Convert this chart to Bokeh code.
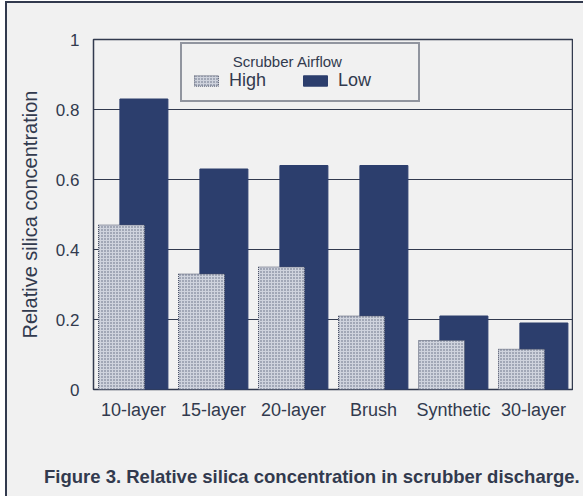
from bokeh.plotting import figure
from bokeh.models import (FactorRange, Range1d, Legend, LegendItem, Div,
                          FixedTicker)
from bokeh.layouts import column
from bokeh.transform import dodge
from bokeh.embed import file_html
from bokeh.resources import INLINE

# ---- data ----
categories = ["10-layer", "15-layer", "20-layer", "Brush", "Synthetic", "30-layer"]
high_airflow = [0.47, 0.33, 0.35, 0.21, 0.14, 0.115]
low_airflow = [0.83, 0.63, 0.64, 0.64, 0.21, 0.19]
y_ticks = [0, 0.2, 0.4, 0.6, 0.8, 1]
y_tick_labels = ["0", "0.2", "0.4", "0.6", "0.8", "1"]
legend_title = "Scrubber Airflow"
series_names = ["High", "Low"]
y_label = "Relative silica concentration"
caption = "Figure 3. Relative silica concentration in scrubber discharge."

FONT = "Liberation Sans"
INK = "#323a4e"
NAVY = "#2c3e6d"
BG = "#f1f1f1"

p = figure(x_range=FactorRange(factors=categories), y_range=Range1d(0, 1),
           width=566, height=428, output_backend="svg", toolbar_location=None,
           min_border_left=86, min_border_right=0, min_border_top=36,
           min_border_bottom=42)
p.background_fill_color = BG
p.border_fill_color = BG
p.outline_line_color = INK
p.outline_line_width = 1.5

src = dict(cat=categories, high=high_airflow, low=low_airflow)
r_low = p.vbar(x=dodge("cat", 0.13, range=p.x_range), top="low", width=0.6,
               source=src, fill_color=NAVY, line_color=NAVY)
r_high = p.vbar(x=dodge("cat", -0.15, range=p.x_range), top="high", width=0.575,
                source=src, fill_color="#cfd3dd", hatch_pattern="dot",
                hatch_color="#5c6379", hatch_scale=3, hatch_weight=1.4,
                line_color="#4b5268", line_dash="1 1", line_width=1)

# axes
p.yaxis.ticker = FixedTicker(ticks=y_ticks)
p.yaxis.major_label_overrides = {t: l for t, l in zip(y_ticks, y_tick_labels)}
for ax in (p.xaxis, p.yaxis):
    ax.axis_line_color = None
    ax.major_tick_line_color = None
    ax.minor_tick_line_color = None
    ax.major_tick_out = 0
    ax.major_tick_in = 0
    ax.major_label_text_font = FONT
    ax.major_label_text_color = INK
p.yaxis.major_label_text_font_size = "17px"
p.yaxis.major_label_standoff = 14
p.xaxis.major_label_text_font_size = "18px"
p.xaxis.major_label_standoff = 10
p.yaxis.axis_label = y_label
p.yaxis.axis_label_text_font = FONT
p.yaxis.axis_label_text_font_size = "20px"
p.yaxis.axis_label_text_font_style = "normal"
p.yaxis.axis_label_text_color = INK
p.yaxis.axis_label_standoff = 12

p.xgrid.grid_line_color = None
p.ygrid.ticker = FixedTicker(ticks=y_ticks)
p.ygrid.grid_line_color = INK
p.ygrid.grid_line_width = 1.2

# legend; non-breaking spaces push the heading toward the box centre
legend = Legend(items=[LegendItem(label=series_names[0], renderers=[r_high]),
                       LegendItem(label=series_names[1], renderers=[r_low])],
                title="\u00a0" * 10 + legend_title, orientation="horizontal",
                location=(87, 287), margin=0, padding=9,
                glyph_width=30, glyph_height=13, label_standoff=8,
                label_width=71, spacing=0, title_standoff=0)
legend.title_text_font = FONT
legend.title_text_font_size = "15px"
legend.title_text_font_style = "normal"
legend.title_text_color = INK
legend.label_text_font = FONT
legend.label_text_font_size = "18px"
legend.label_text_color = INK
legend.border_line_color = INK
legend.border_line_width = 2
legend.background_fill_color = BG
legend.background_fill_alpha = 1
p.add_layout(legend, "center")

# caption under the chart
cap = Div(text=caption, width=566, height=55,
          styles={"font-family": FONT, "font-size": "18.5px",
                  "font-weight": "bold", "color": INK,
                  "background-color": BG, "padding-top": "28px",
                  "padding-left": "32px", "white-space": "nowrap"})

page = column(p, cap, spacing=0,
              styles={"border-top": f"2px solid {INK}",
                      "border-left": f"2px solid {INK}",
                      "margin-left": "5px", "margin-top": "1px",
                      "background-color": BG})

open("out.html", "w").write(file_html(page, INLINE))
